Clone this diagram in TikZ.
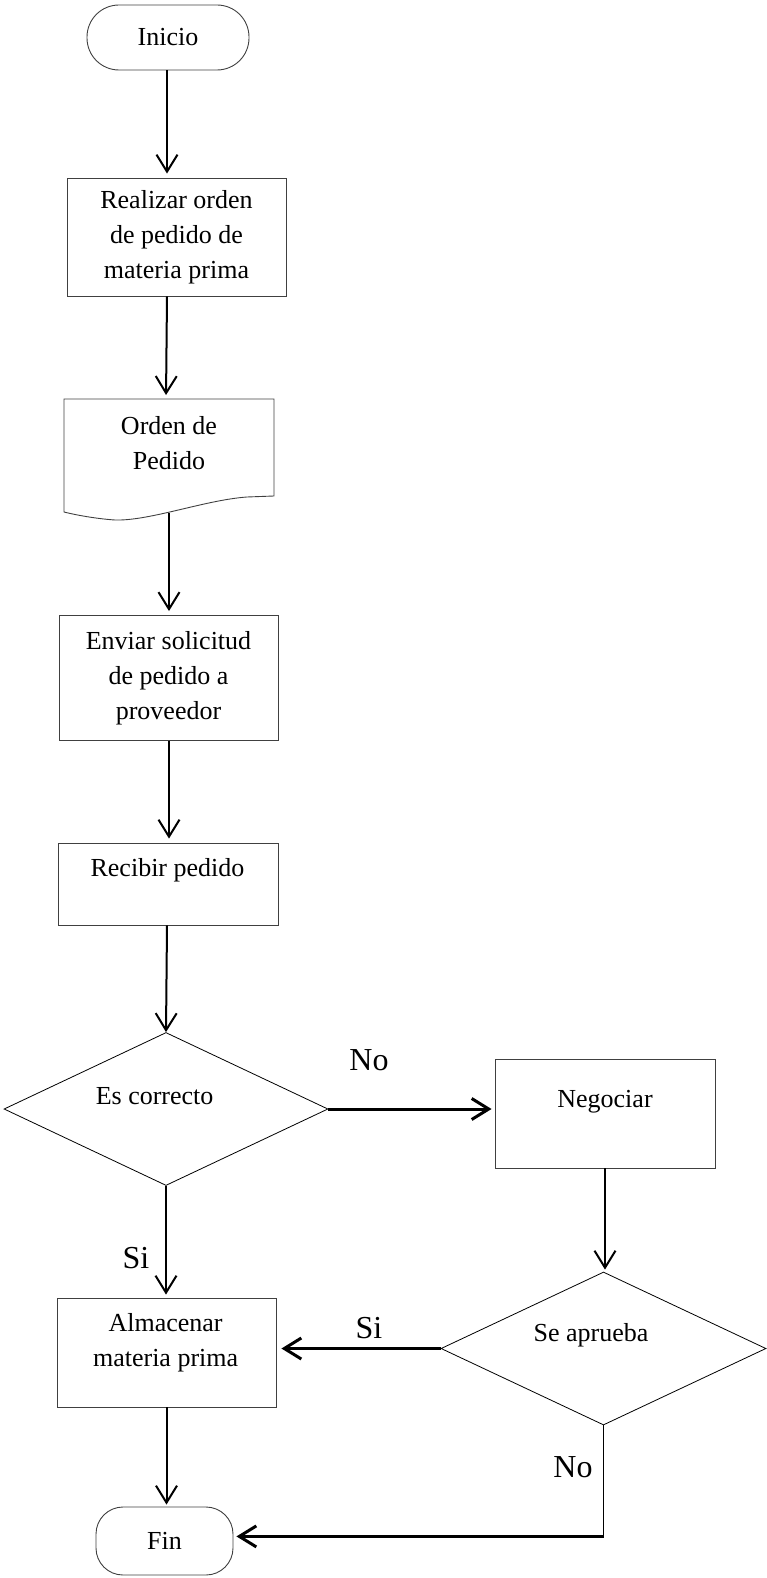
\documentclass[tikz,border=0pt]{standalone}
\usepackage{fontspec}
\setmainfont{Liberation Serif}
\usetikzlibrary{arrows.meta,shapes.geometric}
\begin{document}
\begin{tikzpicture}[x=1pt,y=-1pt,
  outline/.style={draw=black!75, line width=0.9pt},
  body/.style={font=\fontsize{26}{35}\selectfont, align=center, inner sep=0pt},
  tag/.style={font=\fontsize{32}{36}\selectfont, inner sep=0pt},
  procbox/.style={outline, rectangle, inner sep=0pt, body},
  termbox/.style={outline, rectangle, rounded corners=#1, inner sep=0pt, body},
  decision/.style={draw=black, line width=0.8pt, diamond, inner sep=0pt},
  tip/.style={-{Straight Barb[length=17pt,width=21pt]}},
  flow/.style={line width=2pt, tip, shorten >=4pt},
  flowbold/.style={line width=3pt, tip, shorten >=4pt},
  thinline/.style={line width=1.2pt}
]
\useasboundingbox (0,0) rectangle (766,1578);
\coordinate (spine) at (167,0);

% start / end terminals
\node[termbox=32pt, minimum width=162pt, minimum height=65pt] (inicio) at (168,37.5) {Inicio};
\node[termbox=27pt, minimum width=137pt, minimum height=68pt] (fin) at (164.5,1541) {Fin};

% process boxes
\node[procbox, minimum width=219pt, minimum height=118pt] (r1) at (176.5,237)
  {Realizar orden\\de pedido de\\materia prima};
\node[procbox, minimum width=219pt, minimum height=125pt] (r3) at (168.5,678)
  {Enviar solicitud\\de pedido a\\proveedor};
\node[procbox, minimum width=220pt, minimum height=82pt] (r4) at (168,884) {};
\node[body] (t4) at (167.5,870) {Recibir pedido};
\node[procbox, minimum width=220pt, minimum height=109pt] (neg) at (605,1113.5) {};
\node[body] (tneg) at (605,1102) {Negociar};
\node[procbox, minimum width=219pt, minimum height=109pt] (alm) at (166.5,1352.5) {};
\node[body] (talm) at (165.6,1343) {Almacenar\\materia prima};

% document symbol with wavy lower edge
\draw[outline] (64,399) -- (274,399) -- (274,496) -- (247,497)
  .. controls (205,500) and (150,521) .. (115,520)
  .. controls (100,519) and (80,516) .. (64,512) -- cycle;
\node[body] (doc) at (169,443) {Orden de\\Pedido};
\coordinate (docnorth) at (166,399);
\coordinate (docsouth) at (169,513);

% decisions
\node[decision, minimum width=324pt, minimum height=153pt] (d1) at (166,1109) {};
\node[body] (td1) at (154.6,1096) {Es correcto};
\node[decision, minimum width=325pt, minimum height=153pt] (d2) at (603.5,1348.5) {};
\node[body] (td2) at (591,1335) {Se aprueba};

% connectors
\draw[flow] (inicio.south -| spine) -- (r1.north -| spine);
\draw[flow] (r1.south -| spine) -- (docnorth);
\draw[flow] (docsouth) -- (docsouth |- r3.north);
\draw[flow] (r3.south -| docsouth) -- (r4.north -| docsouth);
\draw[flow, shorten >=0pt] (r4.south -| spine) -- (d1.north);
\draw[flowbold, shorten >=3pt] (d1.east) -- (d1.east -| neg.west);
\draw[flow, shorten >=2pt] (neg.south) -- (neg.south |- d2.north);
\draw[flow, shorten >=3pt] (d1.south) -- (d1.south |- alm.north);
\draw[flowbold, shorten >=5pt] (d2.west) -- (d2.west -| alm.east);
\draw[flow, shorten >=2pt] (alm.south) -- (alm.south |- fin.north);
\path (d2.south) ++(0,111) coordinate (turn);
\draw[thinline] (d2.south) -- (turn);
\draw[flowbold, shorten >=3pt] (turn) -- (turn -| fin.east);

% branch labels
\node[tag] (no1) at (369,1060) {No};
\node[tag] (si1) at (136,1258) {Si};
\node[tag] (si2) at (369,1328) {Si};
\node[tag] (no2) at (573,1467) {No};
\end{tikzpicture}
\end{document}
